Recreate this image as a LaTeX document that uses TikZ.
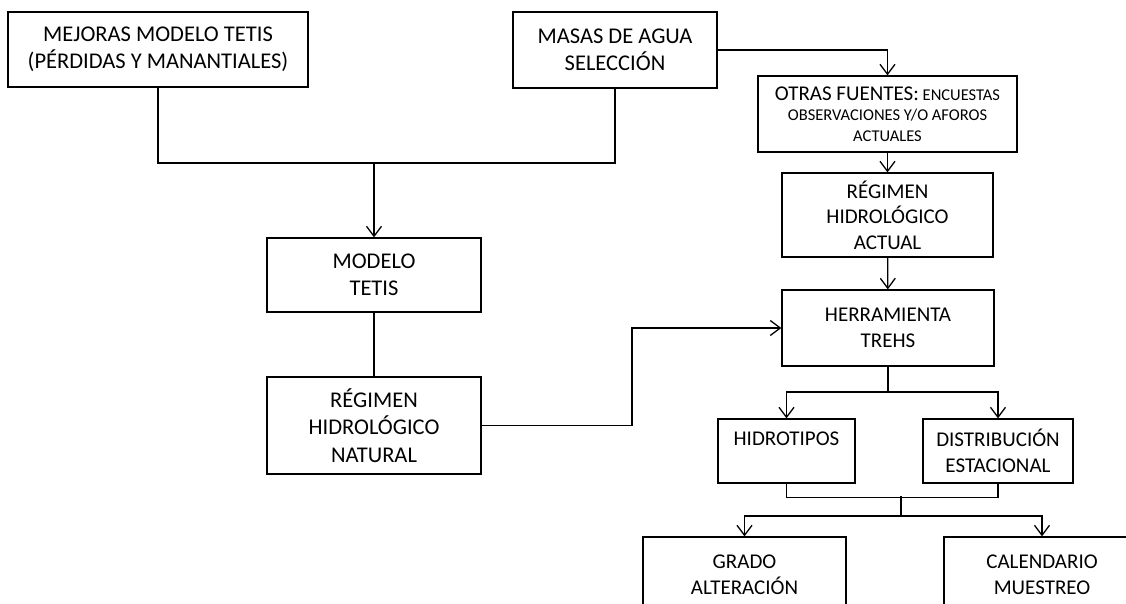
\documentclass[tikz,border=0pt]{standalone}
\usepackage{fontspec}
\setmainfont{Carlito}
\usetikzlibrary{arrows.meta,positioning,calc}

\newcommand\bigtxt{\fontsize{22.5}{27.5}\selectfont}
\newcommand\midtxt{\fontsize{21}{25.6}\selectfont}
\newcommand\smalltxt{\fontsize{16.5}{20.5}\selectfont}

\begin{document}
\begin{tikzpicture}[x=1pt,y=-1pt,
  box/.style={draw,rectangle,line width=1.3pt,align=center,inner sep=0pt},
  link/.style={line width=1.3pt},
  flow/.style={link,-{Straight Barb[length=10pt,width=15pt]}},
]
  \useasboundingbox (0,0) rectangle (1126,603);
  \clip (0,0) rectangle (1126,603);

  % left branch
  \node[box,font=\bigtxt,minimum width=300pt,minimum height=75pt] (mejoras) at (158,49.5) {MEJORAS MODELO TETIS\\(PÉRDIDAS Y MANANTIALES)};
  \node[box,font=\bigtxt,minimum width=204pt,minimum height=76pt] (masas) at (615,50) {MASAS DE AGUA\\SELECCIÓN};
  \node[box,font=\bigtxt,minimum width=214pt,minimum height=74pt] (modelo) at (374,275) {MODELO\\TETIS};
  \node[box,font=\bigtxt,minimum width=214pt,minimum height=97pt] (natural) at (374,425.5) {RÉGIMEN\\HIDROLÓGICO\\NATURAL};

  % right branch
  \node[box,font=\smalltxt,minimum width=259pt,minimum height=76pt] (otras) at (887.5,114) {{\fontsize{21}{20.5}\selectfont OTRAS FUENTES:} ENCUESTAS\\OBSERVACIONES Y/O AFOROS\\ACTUALES};
  \node[box,font=\midtxt,minimum width=211pt,minimum height=84pt] (actual) at (887.5,215) {RÉGIMEN\\HIDROLÓGICO\\ACTUAL};
  \node[box,font=\midtxt,minimum width=212pt,minimum height=76pt] (herramienta) at (888,328) {HERRAMIENTA\\TREHS};
  \node[box,font=\midtxt,minimum width=137pt,minimum height=64pt] (hidro) at (786.5,451) {HIDROTIPOS\\\mbox{}};
  \node[box,font=\midtxt,minimum width=150pt,minimum height=64pt] (dist) at (998,451) {DISTRIBUCIÓN\\ESTACIONAL};
  \node[box,font=\midtxt,minimum width=203pt,minimum height=76pt] (grado) at (744.5,575) {GRADO\\ALTERACIÓN};
  \node[box,font=\midtxt,minimum width=196pt,minimum height=76pt] (calendario) at (1042,575) {CALENDARIO\\MUESTREO};

  % connectors
  \coordinate (joinTop) at (modelo.north |- 0,163);
  \draw[link] (mejoras.south) |- (joinTop) -| (masas.south);
  \draw[flow] (joinTop) -- (modelo.north);
  \draw[link] (modelo) -- (natural);

  \coordinate (bend) at (632,0);
  \draw[flow] (natural.east) -| (bend |- herramienta.west) -- (herramienta.west);

  \draw[flow] (masas.east) -| (otras.north);
  \draw[flow] (otras) -- (actual);
  \draw[flow] (actual) -- (herramienta);

  \coordinate (splitTop) at (herramienta.south |- 0,392);
  \draw[link] (herramienta) -- (splitTop);
  \draw[flow] (splitTop) -| (hidro.north);
  \draw[flow] (splitTop) -| (dist.north);

  \coordinate (joinLow) at (901,497.5);
  \coordinate (splitLow) at (901,516);
  \draw[link] (hidro.south) |- (joinLow) -| (dist.south);
  \draw[link] ([yshift=2pt]joinLow) -- (splitLow);
  \draw[flow] (splitLow) -| (grado.north);
  \draw[flow] (splitLow) -| (calendario.north);
\end{tikzpicture}
\end{document}
